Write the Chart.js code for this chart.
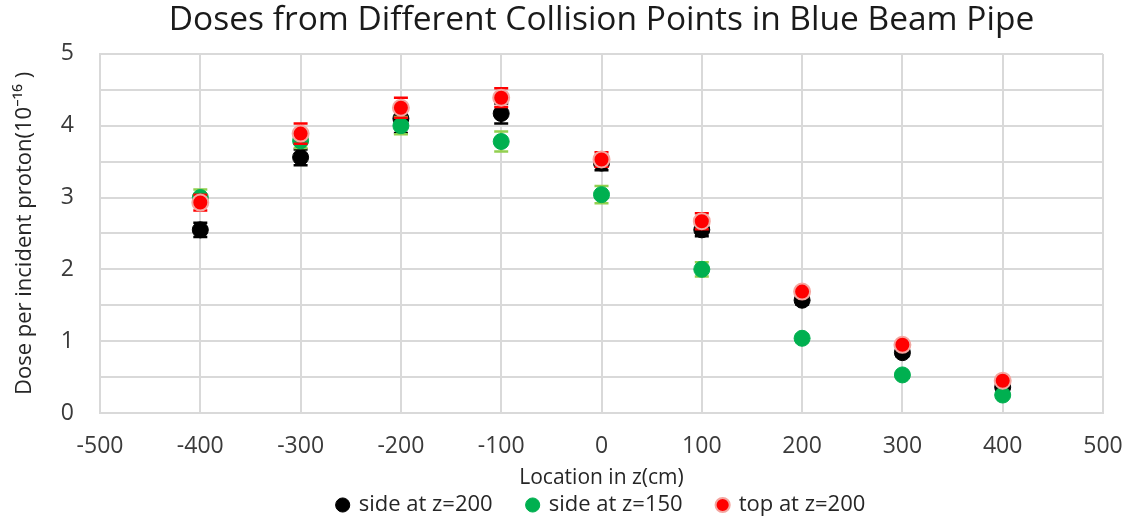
<!DOCTYPE html>
<html>
<head>
<meta charset="utf-8">
<script src="https://cdn.jsdelivr.net/npm/chart.js@4.4.1/dist/chart.umd.min.js"></script>
<style>
  html, body { margin: 0; padding: 0; background: #fff; }
  #wrap { width: 1129px; height: 523px; position: relative; }
</style>
</head>
<body>
<div id="wrap"><canvas id="grafico" width="1129" height="523"></canvas></div>
<script>
// posicoes (cm)
var locais = [-400, -300, -200, -100, 0, 100, 200, 300, 400];

// dose por proton incidente (10^-16)
var ladoZ200 = [2.55, 3.56, 4.10, 4.17, 3.48, 2.55, 1.57, 0.84, 0.36];
var ladoZ200Erro = [0.10, 0.11, 0.20, 0.14, 0.10, 0.09, 0.06, 0.05, 0.04];

var ladoZ150 = [3.00, 3.79, 4.00, 3.78, 3.04, 2.00, 1.04, 0.53, 0.25];
var ladoZ150Erro = [0.11, 0.10, 0.12, 0.14, 0.12, 0.10, 0.05, 0.04, 0.03];

var topoZ200 = [2.93, 3.89, 4.25, 4.39, 3.53, 2.67, 1.69, 0.95, 0.45];
var topoZ200Erro = [0.11, 0.14, 0.14, 0.13, 0.10, 0.11, 0.06, 0.05, 0.04];

var ticksX = [-500, -400, -300, -200, -100, 0, 100, 200, 300, 400, 500];
var ticksY = [0, 1, 2, 3, 4, 5];

function montarPontos(valores, erros) {
  var pontos = [];
  for (var i = 0; i < locais.length; i++) {
    pontos.push({ x: locais[i], y: valores[i], erro: erros[i] });
  }
  return pontos;
}

// barras de erro desenhadas com as escalas do grafico
var barrasErro = {
  id: "barrasErro",
  beforeDatasetDraw: function (chart, args) {
    var ds = chart.data.datasets[args.index];
    var meta = args.meta;
    var escalaY = chart.scales.y;
    var ctx = chart.ctx;
    ctx.save();
    ctx.strokeStyle = ds.corErro;
    ctx.lineWidth = 2.5;
    meta.data.forEach(function (ponto, i) {
      var d = ds.data[i];
      var yTopo = escalaY.getPixelForValue(d.y + d.erro);
      var yBase = escalaY.getPixelForValue(d.y - d.erro);
      var x = ponto.x;
      ctx.beginPath();
      ctx.moveTo(x, yTopo);
      ctx.lineTo(x, yBase);
      ctx.moveTo(x - 7, yTopo);
      ctx.lineTo(x + 7, yTopo);
      ctx.moveTo(x - 7, yBase);
      ctx.lineTo(x + 7, yBase);
      ctx.stroke();
    });
    ctx.restore();
  }
};

var fonte = "'Open Sans', 'Noto Sans', sans-serif";
var corTexto = "#262626";
var corGrade = "#d9d9d9";

var ctx1 = document.getElementById("grafico").getContext("2d");

var grafico = new Chart(ctx1, {
  type: "scatter",
  data: {
    datasets: [
      {
        label: "side at z=200",
        data: montarPontos(ladoZ200, ladoZ200Erro),
        order: 3,
        pointRadius: 8,
        pointBackgroundColor: "#000000",
        pointBorderColor: "#000000",
        pointBorderWidth: 1,
        backgroundColor: "#000000",
        borderColor: "#000000",
        corErro: "#000000",
      },
      {
        label: "side at z=150",
        data: montarPontos(ladoZ150, ladoZ150Erro),
        order: 2,
        pointRadius: 8,
        pointBackgroundColor: "#00b050",
        pointBorderColor: "#00b050",
        pointBorderWidth: 1,
        backgroundColor: "#00b050",
        borderColor: "#00b050",
        corErro: "#92d050",
      },
      {
        label: "top at z=200",
        data: montarPontos(topoZ200, topoZ200Erro),
        order: 1,
        pointRadius: 8,
        pointBackgroundColor: "#ff0000",
        pointBorderColor: "#f4a6a0",
        pointBorderWidth: 2,
        backgroundColor: "#ff0000",
        borderColor: "#f4a6a0",
        corErro: "#ff0000",
      },
    ],
  },
  options: {
    responsive: false,
    animation: false,
    layout: { padding: { left: 12, right: 26, top: 0, bottom: 0 } },
    plugins: {
      title: {
        display: true,
        fullSize: false,
        text: "Doses from Different Collision Points in Blue Beam Pipe",
        color: "#1a1a1a",
        font: { size: 33.5, family: fonte, weight: "normal", lineHeight: 1.25 },
        padding: { top: 0, bottom: 12 },
      },
      legend: {
        display: true,
        fullSize: false,
        position: "bottom",
        maxHeight: 64,
        labels: {
          usePointStyle: true,
          pointStyle: "circle",
          boxWidth: 10,
          boxHeight: 10,
          padding: 35,
          color: corTexto,
          font: { size: 22, family: fonte },
          sort: function (a, b) { return a.datasetIndex - b.datasetIndex; },
        },
      },
      tooltip: { enabled: false },
    },
    scales: {
      x: {
        type: "linear",
        min: -500,
        max: 500,
        afterBuildTicks: function (axis) {
          axis.ticks = ticksX.map(function (v) { return { value: v }; });
        },
        afterFit: function (axis) { axis.height = 46; },
        grid: {
          color: corGrade,
          lineWidth: 2,
          drawTicks: true,
          tickLength: 20,
          tickColor: "rgba(0,0,0,0)",
        },
        border: { color: corGrade, width: 2 },
        ticks: {
          color: "#3a3a3a",
          padding: 0,
          maxRotation: 0,
          autoSkip: false,
          font: { size: 23, family: fonte },
        },
        title: {
          display: true,
          text: "Location in z(cm)",
          color: corTexto,
          padding: { top: 0, bottom: -32 },
          font: { size: 21, family: fonte },
        },
      },
      y: {
        min: 0,
        max: 5,
        afterFit: function (axis) { axis.width = 88; },
        ticks: {
          stepSize: 0.5,
          color: "#3a3a3a",
          padding: 26,
          font: { size: 23, family: fonte },
          callback: function (v) {
            return ticksY.indexOf(v) >= 0 ? v : "";
          },
        },
        grid: { color: corGrade, lineWidth: 2, drawTicks: false },
        border: { color: corGrade, width: 2 },
        title: {
          display: true,
          text: "Dose per incident proton(10\u207B\u00B9\u2076 )",
          color: corTexto,
          padding: { top: 0, bottom: 0 },
          font: { size: 22, family: fonte },
        },
      },
    },
  },
  plugins: [barrasErro],
});
</script>
</body>
</html>
